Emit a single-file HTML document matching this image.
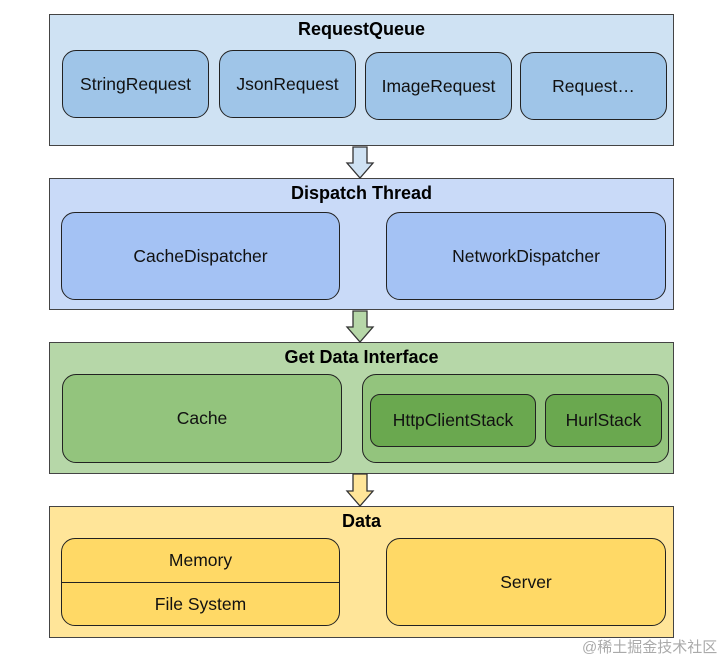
<!DOCTYPE html><html><head><meta charset="utf-8"><style>
body{margin:0;width:720px;height:660px;background:#fff;position:relative;font-family:"Liberation Sans",Arial,sans-serif;overflow:hidden}
.p{position:absolute;left:49px;width:625px;height:132px;border:1.5px solid #444;box-sizing:border-box}
.t{position:absolute;left:0;right:0;text-align:center;font-weight:bold;font-size:18px;top:4px;color:#000}
.b{position:absolute;border:1.5px solid #222;border-radius:14px;box-sizing:border-box;display:flex;align-items:center;justify-content:center;font-size:17.5px;color:#111}
</style></head><body>
<div class="p" style="top:14px;background:#cfe2f3"><div class="t">RequestQueue</div></div>
<div class="b" style="left:62px;top:50px;width:147px;height:68px;background:#9fc5e8">StringRequest</div>
<div class="b" style="left:219px;top:50px;width:137px;height:68px;background:#9fc5e8">JsonRequest</div>
<div class="b" style="left:365px;top:52px;width:147px;height:68px;background:#9fc5e8">ImageRequest</div>
<div class="b" style="left:520px;top:52px;width:147px;height:68px;background:#9fc5e8">Request…</div>

<div class="p" style="top:178px;background:#c9daf8"><div class="t">Dispatch Thread</div></div>
<div class="b" style="left:61px;top:212px;width:279px;height:88px;background:#a4c2f4">CacheDispatcher</div>
<div class="b" style="left:386px;top:212px;width:280px;height:88px;background:#a4c2f4">NetworkDispatcher</div>

<div class="p" style="top:342px;background:#b6d7a8"><div class="t">Get Data Interface</div></div>
<div class="b" style="left:62px;top:374px;width:280px;height:89px;background:#93c47d">Cache</div>
<div class="b" style="left:362px;top:374px;width:307px;height:89px;background:#93c47d"></div>
<div class="b" style="left:370px;top:394px;width:166px;height:53px;background:#6aa84f;border-radius:10px">HttpClientStack</div>
<div class="b" style="left:545px;top:394px;width:117px;height:53px;background:#6aa84f;border-radius:10px">HurlStack</div>

<div class="p" style="top:506px;background:#ffe599"><div class="t">Data</div></div>
<div class="b" style="left:61px;top:538px;width:279px;height:88px;background:#ffd966;flex-direction:column;justify-content:flex-start">
<div style="height:43px;width:100%;display:flex;align-items:center;justify-content:center;border-bottom:1.5px solid #222">Memory</div>
<div style="flex:1;width:100%;display:flex;align-items:center;justify-content:center">File System</div></div>
<div class="b" style="left:386px;top:538px;width:280px;height:88px;background:#ffd966">Server</div>

<svg style="position:absolute;left:0;top:0" width="720" height="660">
<g stroke="#333" stroke-width="1.3">
<path d="M353 147 V163 H347 L360 178 L373 163 H367 V147 Z" fill="#cfe2f3"/>
<path d="M353 311 V327 H347 L360 342 L373 327 H367 V311 Z" fill="#b6d7a8"/>
<path d="M353 474 V491 H347 L360 506 L373 491 H367 V474 Z" fill="#ffe599"/>
</g></svg>
<div style="position:absolute;left:582px;top:636px;font-size:15px;white-space:nowrap;color:#aaa;font-family:'Liberation Sans','Noto Sans CJK SC',sans-serif">@稀土掘金技术社区</div>
</body></html>
